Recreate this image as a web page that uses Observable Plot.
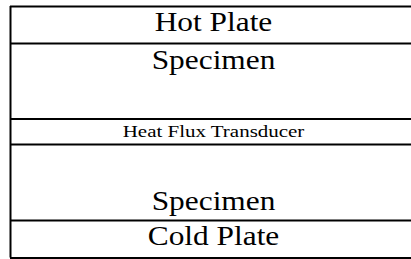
<!DOCTYPE html>
<html>
<head>
<meta charset="utf-8">
<script src="https://cdn.jsdelivr.net/npm/d3@7"></script>
<script src="https://cdn.jsdelivr.net/npm/@observablehq/plot@0.6"></script>
<style>
  html, body { margin: 0; padding: 0; background: #fff; overflow: hidden; }
  svg { display: block; }
</style>
</head>
<body>
<div id="chart"></div>
<script>
// Layers of the stack, top to bottom
const layerNames = ["Hot Plate", "Specimen", "Heat Flux Transducer", "Specimen", "Cold Plate"];
// Relative thickness of each layer (drawing units)
const layerThickness = [37, 75.5, 25.5, 76, 37.5];
// Where the label sits inside each layer
const labelAnchor = ["middle", "top", "middle", "bottom", "middle"];
// Label size class
const labelSize = ["large", "large", "small", "large", "large"];

let acc = 0;
const layers = layerNames.map((name, i) => {
  const top = acc;
  acc += layerThickness[i];
  return {name, top, bottom: acc, anchor: labelAnchor[i], size: labelSize[i]};
});
const total = acc;
const boundaries = [0, ...layers.map(d => d.bottom)];

const font = "Liberation Serif, Times New Roman, serif";

const chart = Plot.plot({
  width: 411,
  height: 259,
  margin: 0,
  x: {domain: [0, 1], range: [10, 416], axis: null},
  y: {domain: [0, total], range: [6, 257.5], axis: null},
  style: {fontFamily: font, background: "#fff", overflow: "hidden", maxWidth: "none"},
  marks: [
    Plot.ruleY(boundaries, {y: d => d, x1: 0, x2: 1, stroke: "black", strokeWidth: 2}),
    Plot.ruleX([0], {y1: 0, y2: total, stroke: "black", strokeWidth: 2}),
    Plot.ruleX([1], {y1: 0, y2: total, stroke: "black", strokeWidth: 2}),
    Plot.text(layers.filter(d => d.anchor === "middle" && d.size === "large"), {
      x: 0.5, y: d => (d.top + d.bottom) / 2, text: "name", fontSize: 28, fill: "black", dy: -3,
      className: "lbl-large"
    }),
    Plot.text(layers.filter(d => d.anchor === "middle" && d.size === "small"), {
      x: 0.5, y: d => (d.top + d.bottom) / 2, text: "name", fontSize: 16, fill: "black",
      className: "lbl-small"
    }),
    Plot.text(layers.filter(d => d.anchor === "top"), {
      x: 0.5, y: "top", text: "name", fontSize: 28, fill: "black", lineAnchor: "top", dy: 6,
      className: "lbl-large"
    }),
    Plot.text(layers.filter(d => d.anchor === "bottom"), {
      x: 0.5, y: "bottom", text: "name", fontSize: 28, fill: "black", lineAnchor: "bottom", dy: -11,
      className: "lbl-large"
    })
  ]
});
document.getElementById("chart").append(chart);

// the reference glyphs are drawn slightly wider than the font's natural advance
d3.select(chart).selectAll(".lbl-large text, .lbl-small text").each(function () {
  const small = this.closest(".lbl-small") !== null;
  const w = this.getComputedTextLength();
  d3.select(this)
    .attr("textLength", w * (small ? 1.31 : 1.12))
    .attr("lengthAdjust", "spacingAndGlyphs");
});
</script>
</body>
</html>
